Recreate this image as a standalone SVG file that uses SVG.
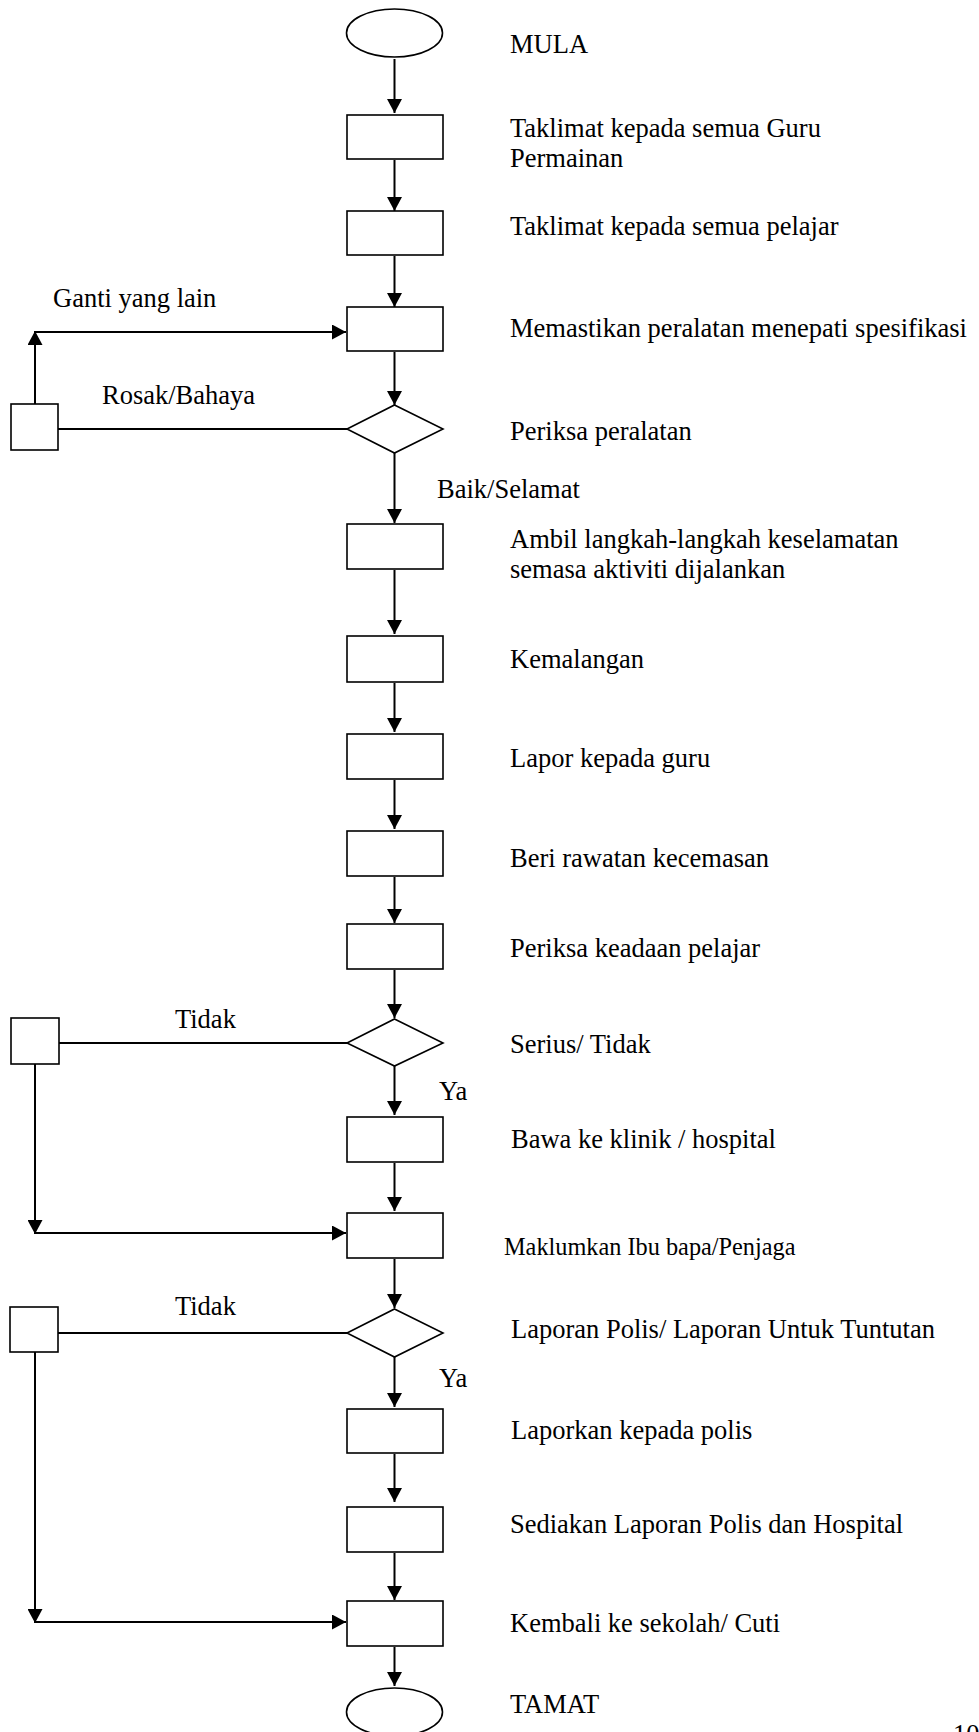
<svg xmlns="http://www.w3.org/2000/svg" width="979" height="1732" viewBox="0 0 979 1732">
<style>
.n{fill:#fff;stroke:#000;stroke-width:1.6}
.c{fill:none;stroke:#000;stroke-width:2}
.a{marker-end:url(#ah)}
text{font-family:"Liberation Serif","Times New Roman",serif;font-size:26.5px;fill:#000}
.s{font-size:24.3px}
</style>
<defs>
<marker id="ah" markerUnits="userSpaceOnUse" markerWidth="15" markerHeight="15" refX="14" refY="7.5" orient="auto">
<path d="M0,0 L14,7.5 L0,15 z" fill="#000"/>
</marker>
</defs>
<rect width="979" height="1732" fill="#fff"/>
<g id="connectors">
<line class="c a" x1="394.5" y1="59" x2="394.5" y2="113"/>
<line class="c a" x1="394.5" y1="160" x2="394.5" y2="211"/>
<line class="c a" x1="394.5" y1="256" x2="394.5" y2="307"/>
<line class="c a" x1="394.5" y1="352" x2="394.5" y2="405"/>
<line class="c a" x1="394.5" y1="453" x2="394.5" y2="523"/>
<line class="c a" x1="394.5" y1="570" x2="394.5" y2="634"/>
<line class="c a" x1="394.5" y1="683" x2="394.5" y2="732"/>
<line class="c a" x1="394.5" y1="780" x2="394.5" y2="829"/>
<line class="c a" x1="394.5" y1="877" x2="394.5" y2="923"/>
<line class="c a" x1="394.5" y1="970" x2="394.5" y2="1018"/>
<line class="c a" x1="394.5" y1="1066" x2="394.5" y2="1115"/>
<line class="c a" x1="394.5" y1="1163" x2="394.5" y2="1211"/>
<line class="c a" x1="394.5" y1="1259" x2="394.5" y2="1308"/>
<line class="c a" x1="394.5" y1="1357" x2="394.5" y2="1407"/>
<line class="c a" x1="394.5" y1="1454" x2="394.5" y2="1502"/>
<line class="c a" x1="394.5" y1="1553" x2="394.5" y2="1600"/>
<line class="c a" x1="394.5" y1="1647" x2="394.5" y2="1686"/>
<line class="c" x1="58" y1="429" x2="347" y2="429"/>
<line class="c a" x1="35" y1="404" x2="35" y2="331"/>
<line class="c a" x1="34" y1="332" x2="346" y2="332"/>
<line class="c" x1="59" y1="1043" x2="347" y2="1043"/>
<line class="c a" x1="35" y1="1064" x2="35" y2="1234"/>
<line class="c a" x1="34" y1="1233" x2="346" y2="1233"/>
<line class="c" x1="58" y1="1333" x2="347" y2="1333"/>
<line class="c a" x1="35" y1="1352" x2="35" y2="1623"/>
<line class="c a" x1="34" y1="1622" x2="346" y2="1622"/>
<text x="53" y="307">Ganti yang lain</text>
<text x="102" y="404">Rosak/Bahaya</text>
<text x="437" y="498">Baik/Selamat</text>
<text x="175" y="1028">Tidak</text>
<text x="439" y="1100">Ya</text>
<text x="175" y="1315">Tidak</text>
<text x="439" y="1387">Ya</text>
</g>
<g id="n-mula"><ellipse class="n" cx="394.5" cy="33" rx="48" ry="24"/><text x="510" y="53">MULA</text></g>
<g id="n-taklimat-guru"><rect class="n" x="347" y="115" width="96" height="44"/><text x="510" y="137">Taklimat kepada semua Guru</text><text x="510" y="167">Permainan</text></g>
<g id="n-taklimat-pelajar"><rect class="n" x="347" y="211" width="96" height="44"/><text x="510" y="235">Taklimat kepada semua pelajar</text></g>
<g id="n-memastikan"><rect class="n" x="347" y="307" width="96" height="44"/><text x="510" y="337">Memastikan peralatan menepati spesifikasi</text></g>
<g id="n-periksa-peralatan"><polygon class="n" points="394.5,405 443,429 394.5,453 347,429"/><text x="510" y="440">Periksa peralatan</text></g>
<g id="n-ganti"><rect class="n" x="11" y="404" width="47" height="46"/></g>
<g id="n-ambil"><rect class="n" x="347" y="524" width="96" height="45"/><text x="510" y="548">Ambil langkah-langkah keselamatan</text><text x="510" y="578">semasa aktiviti dijalankan</text></g>
<g id="n-kemalangan"><rect class="n" x="347" y="636" width="96" height="46"/><text x="510" y="668">Kemalangan</text></g>
<g id="n-lapor-guru"><rect class="n" x="347" y="734" width="96" height="45"/><text x="510" y="767">Lapor kepada guru</text></g>
<g id="n-rawatan"><rect class="n" x="347" y="831" width="96" height="45"/><text x="510" y="867">Beri rawatan kecemasan</text></g>
<g id="n-periksa-keadaan"><rect class="n" x="347" y="924" width="96" height="45"/><text x="510" y="957">Periksa keadaan pelajar</text></g>
<g id="n-serius"><polygon class="n" points="394.5,1019 443,1043 394.5,1066 347,1043"/><text x="510" y="1053">Serius/ Tidak</text></g>
<g id="n-tidak1"><rect class="n" x="11" y="1018" width="48" height="46"/></g>
<g id="n-bawa"><rect class="n" x="347" y="1117" width="96" height="45"/><text x="511" y="1148">Bawa ke klinik / hospital</text></g>
<g id="n-maklumkan"><rect class="n" x="347" y="1213" width="96" height="45"/><text class="s" x="504" y="1255">Maklumkan Ibu bapa/Penjaga</text></g>
<g id="n-laporan-polis"><polygon class="n" points="394.5,1309 443,1333 394.5,1357 347,1333"/><text x="511" y="1338">Laporan Polis/ Laporan Untuk Tuntutan</text></g>
<g id="n-tidak2"><rect class="n" x="10" y="1307" width="48" height="45"/></g>
<g id="n-laporkan"><rect class="n" x="347" y="1409" width="96" height="44"/><text x="511" y="1439">Laporkan kepada polis</text></g>
<g id="n-sediakan"><rect class="n" x="347" y="1507" width="96" height="45"/><text x="510" y="1533">Sediakan Laporan Polis dan Hospital</text></g>
<g id="n-kembali"><rect class="n" x="347" y="1601" width="96" height="45"/><text x="510" y="1632">Kembali ke sekolah/ Cuti</text></g>
<g id="n-tamat"><ellipse class="n" cx="394.5" cy="1712" rx="48" ry="24"/><text x="510" y="1713">TAMAT</text></g>
<text x="953" y="1743">10</text>
</svg>
